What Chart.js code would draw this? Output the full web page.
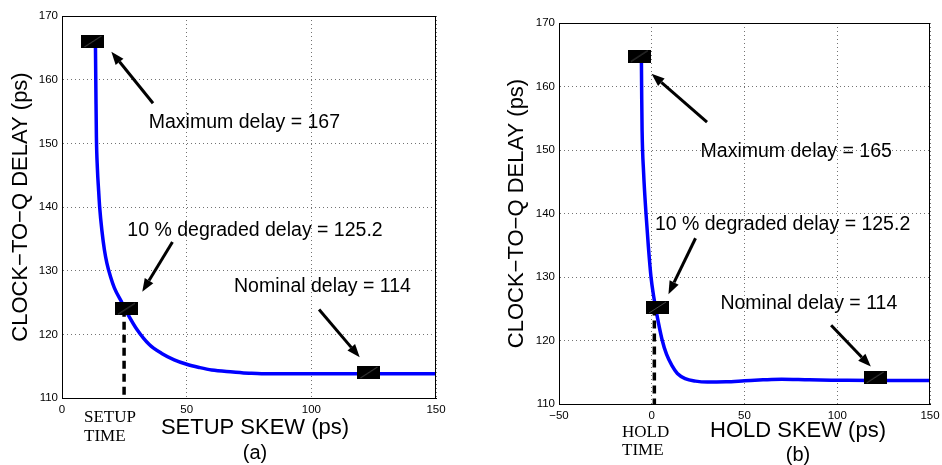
<!DOCTYPE html>
<html>
<head>
<meta charset="utf-8">
<script src="https://cdn.jsdelivr.net/npm/chart.js@4"></script>
<style>
  body { margin: 0; background: #fff; }
  #wrap { position: relative; width: 942px; height: 465px; overflow: hidden; }
  canvas { position: absolute; top: 0; }
  #setupChart { left: 0; }
  #holdChart { left: 471px; }
</style>
</head>
<body>
<div id="wrap">
  <canvas id="setupChart" width="471" height="465"></canvas>
  <canvas id="holdChart" width="471" height="465"></canvas>
</div>
<script>
// ================= DATA =================
const delayTicks = [110, 120, 130, 140, 150, 160, 170];
const setupTicks = [0, 50, 100, 150];
const holdTicks = [-50, 0, 50, 100, 150];

const setupSkew  = [13.4, 13.6, 13.8, 14.2, 14.7, 15.1, 16, 17, 18, 19.5, 21, 24, 26.5, 30, 35, 40, 45, 50, 55, 60, 68.6, 75, 80, 90, 100, 110, 120, 130, 140, 150];
const setupDelay = [166, 158, 151, 146, 142.5, 140, 136.3, 133.3, 131.2, 129.0, 127.3, 125.0, 123.1, 120.8, 118.4, 117.0, 116.0, 115.3, 114.8, 114.4, 114.1, 113.9, 113.8, 113.8, 113.8, 113.8, 113.8, 113.8, 113.8, 113.8];

const holdSkew  = [-5.6, -5.4, -5.2, -4.4, -3.1, -1.8, -0.4, 1.0, 2.6, 5.5, 8, 11, 13.8, 18, 23.6, 30, 40, 50, 60, 70, 85, 100, 120, 150];
const holdDelay = [165, 158, 153, 146.5, 140, 134.7, 130, 127, 124.3, 120.2, 117.8, 116.0, 114.8, 114.0, 113.6, 113.45, 113.5, 113.65, 113.8, 113.9, 113.8, 113.75, 113.7, 113.7];

// maximum / 10% degraded / nominal points
const setupMarkX = [12.4, 25.8, 123.1];
const setupMarkY = [166, 124.0, 114.0];
const holdMarkX  = [-6.7, 3.1, 120.4];
const holdMarkY  = [164.8, 125.2, 114.2];

const setupTime = 24.9;
const holdTime  = 1.4;

const setupNotes = ["Maximum delay = 167", "10 % degraded delay = 125.2", "Nominal delay = 114"];
const holdNotes  = ["Maximum delay = 165", "10 % degraded delay = 125.2", "Nominal delay = 114"];

// ================= HELPERS =================
const SANS = '"Liberation Sans", Arial, Helvetica, sans-serif';
const SERIF = '"Liberation Serif", "Times New Roman", serif';

function makeMarker() {
  const c = document.createElement("canvas");
  c.width = 23; c.height = 13;
  const g = c.getContext("2d");
  g.fillStyle = "#000";
  g.fillRect(0, 0, 23, 13);
  g.strokeStyle = "rgba(150,150,150,0.8)";
  g.lineWidth = 0.6;
  g.beginPath();
  g.moveTo(3, 12); g.lineTo(20, 1);
  g.stroke();
  return c;
}
const marker = makeMarker();

function arrow(ctx, x1, y1, x2, y2) {
  const a = Math.atan2(y2 - y1, x2 - x1);
  const hl = 13, hw = 5;
  const bx = x2 - hl * Math.cos(a), by = y2 - hl * Math.sin(a);
  ctx.beginPath();
  ctx.moveTo(x1, y1);
  ctx.lineTo(bx, by);
  ctx.stroke();
  ctx.beginPath();
  ctx.moveTo(x2, y2);
  ctx.lineTo(bx + hw * Math.sin(a), by - hw * Math.cos(a));
  ctx.lineTo(bx - hw * Math.sin(a), by + hw * Math.cos(a));
  ctx.closePath();
  ctx.fill();
}

function notesPlugin(p) {
  return {
    id: "notes",
    afterDraw(chart) {
      const ctx = chart.ctx;
      const xs = chart.scales.x, ys = chart.scales.y;
      const ca = chart.chartArea;
      ctx.save();

      // box
      ctx.strokeStyle = "#000";
      ctx.lineWidth = 1;
      ctx.strokeRect(ca.left + 0.5, ca.top + 0.5, ca.right - ca.left - 1, ca.bottom - ca.top);

      // arrows
      ctx.strokeStyle = "#000";
      ctx.fillStyle = "#000";
      ctx.lineWidth = 3;
      p.arrows.forEach(a => {
        arrow(ctx, xs.getPixelForValue(a[0]), ys.getPixelForValue(a[1]),
                   xs.getPixelForValue(a[2]), ys.getPixelForValue(a[3]));
      });

      // annotation texts
      ctx.font = "19.5px " + SANS;
      ctx.textAlign = "left";
      ctx.textBaseline = "middle";
      p.notes.forEach((t, i) => {
        ctx.fillText(t, xs.getPixelForValue(p.notePos[i][0]), ys.getPixelForValue(p.notePos[i][1]));
      });

      // axis titles
      ctx.textAlign = "center";
      ctx.font = "22px " + SANS;
      ctx.fillText(p.xTitle, p.xTitleAt[0], p.xTitleAt[1]);
      ctx.font = "20px " + SANS;
      ctx.fillText(p.sub, p.xTitleAt[0], p.subY);

      ctx.save();
      ctx.translate(ca.left - p.yTitleGap, (ca.top + ca.bottom) / 2);
      ctx.rotate(-Math.PI / 2);
      ctx.font = "22px " + SANS;
      ctx.fillText("CLOCK\u2212TO\u2212Q DELAY (ps)", 0, 0);
      ctx.restore();

      // setup / hold time label
      ctx.textAlign = "left";
      ctx.font = "17px " + SERIF;
      ctx.fillText(p.timeLabel[0], p.timeAt[0], p.timeAt[1]);
      ctx.fillText(p.timeLabel[1], p.timeAt[0], p.timeAt[2]);

      ctx.restore();
    }
  };
}

// ================= CHARTS =================
function makePanel(id, p) {
  const pts = (xs, ys) => xs.map((x, i) => ({ x: x, y: ys[i] }));
  new Chart(document.getElementById(id), {
    type: "scatter",
    data: {
      datasets: [
        {
          data: pts(p.markX, p.markY),
          pointStyle: marker,
          pointRadius: 11,
          showLine: false,
          clip: false
        },
        {
          data: [{ x: p.time, y: p.markY[1] }, { x: p.time, y: 110 }],
          showLine: true,
          borderColor: "#000",
          borderWidth: 3.5,
          borderDash: [8, 5],
          pointRadius: 0
        },
        {
          data: pts(p.skew, p.delay),
          showLine: true,
          borderColor: "#0000ff",
          borderWidth: 3.5,
          cubicInterpolationMode: "monotone",
          pointRadius: 0
        }
      ]
    },
    options: {
      responsive: false,
      animation: false,
      layout: { padding: p.pad },
      plugins: { legend: { display: false }, tooltip: { enabled: false } },
      scales: {
        x: {
          type: "linear",
          min: p.xTicks[0],
          max: p.xTicks[p.xTicks.length - 1],
          afterBuildTicks: s => { s.ticks = p.xTicks.map(v => ({ value: v })); },
          afterFit: s => { s.height = 20; s.paddingLeft = 0; s.paddingRight = 0; },
          grid: { color: "rgba(0,0,0,0.55)", drawTicks: false, lineWidth: 1 },
          border: { color: "#000", dash: [1, 3] },
          ticks: {
            color: "#000",
            padding: 5,
            maxRotation: 0,
            font: { family: SANS, size: 11.5 },
            callback: v => String(v).replace("-", "\u2212")
          }
        },
        y: {
          min: 110,
          max: 170,
          afterBuildTicks: s => { s.ticks = delayTicks.map(v => ({ value: v })); },
          afterFit: s => { s.width = 30; s.paddingTop = 0; s.paddingBottom = 0; },
          grid: { color: "rgba(0,0,0,0.55)", drawTicks: false, lineWidth: 1 },
          border: { color: "#000", dash: [1, 3] },
          ticks: {
            color: "#000",
            padding: 4,
            font: { family: SANS, size: 11.5 }
          }
        }
      }
    },
    plugins: [notesPlugin(p)]
  });
}

makePanel("setupChart", {
  skew: setupSkew, delay: setupDelay,
  markX: setupMarkX, markY: setupMarkY,
  time: setupTime, xTicks: setupTicks,
  notes: setupNotes,
  notePos: [[34.8, 153.3], [26.2, 136.3], [69.0, 127.5]],
  arrows: [[36.5, 156.3, 19.8, 164.4], [44.3, 134.5, 32.2, 126.7], [103.1, 123.9, 119.4, 116.4]],
  xTitle: "SETUP SKEW (ps)", xTitleAt: [255, 428], sub: "(a)", subY: 453,
  yTitleGap: 41,
  timeLabel: ["SETUP", "TIME"], timeAt: [84, 418, 437],
  pad: { left: 32, right: 35, top: 16, bottom: 47 }
});

makePanel("holdChart", {
  skew: holdSkew, delay: holdDelay,
  markX: holdMarkX, markY: holdMarkY,
  time: holdTime, xTicks: holdTicks,
  notes: holdNotes,
  notePos: [[26.3, 149.8], [1.7, 138.3], [37.0, 125.8]],
  arrows: [[29.8, 154.4, -0.1, 162.0], [23.6, 136.1, 9.0, 127.3], [96.7, 122.4, 118.1, 115.9]],
  xTitle: "HOLD SKEW (ps)", xTitleAt: [327, 431], sub: "(b)", subY: 455,
  yTitleGap: 42,
  timeLabel: ["HOLD", "TIME"], timeAt: [151, 433, 451],
  pad: { left: 58, right: 9, top: 23, bottom: 41 }
});
</script>
</body>
</html>
